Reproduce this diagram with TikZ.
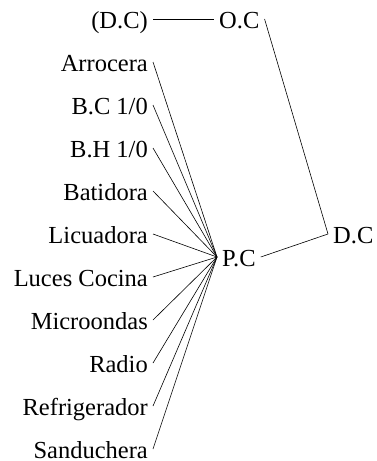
\documentclass[tikz,border=0pt]{standalone}
\usepackage{fontspec}
\setmainfont{Liberation Serif}
\begin{document}
\begin{tikzpicture}[x=1pt,y=-1pt,
  lbl/.style={inner xsep=5pt, inner ysep=0pt, text height=19pt, text depth=0pt, font=\fontsize{24.5}{28}\selectfont},
  conn/.style={draw, line width=0.6pt}]
\useasboundingbox (0,0) rectangle (376,461);
\node[lbl, anchor=east] (dcp) at (153,19) {(D.C)};
\node[lbl, anchor=west] (oc) at (214,19) {O.C};
\node[lbl, anchor=west] (pc) at (217,257) {P.C};
\node[lbl, anchor=west] (dc) at (328,234) {D.C};
\node[lbl, anchor=east] (a1) at (153,62) {Arrocera};
\node[lbl, anchor=east] (a2) at (153,105) {B.C 1/0};
\node[lbl, anchor=east] (a3) at (153,148) {B.H 1/0};
\node[lbl, anchor=east] (a4) at (153,191) {Batidora};
\node[lbl, anchor=east] (a5) at (153,234) {Licuadora};
\node[lbl, anchor=east] (a6) at (153,277) {Luces Cocina};
\node[lbl, anchor=east] (a7) at (153,320) {Microondas};
\node[lbl, anchor=east] (a8) at (153,363) {Radio};
\node[lbl, anchor=east] (a9) at (153,406) {Refrigerador};
\node[lbl, anchor=east] (a10) at (153,449) {Sanduchera};
\draw[conn] (dcp.east) -- (oc.west);
\draw[conn] (oc.east) -- (dc.west);
\draw[conn] (pc.east) -- (dc.west);
\foreach \i in {1,...,10} { \draw[conn] (a\i.east) -- (pc.west); }
\end{tikzpicture}
\end{document}
